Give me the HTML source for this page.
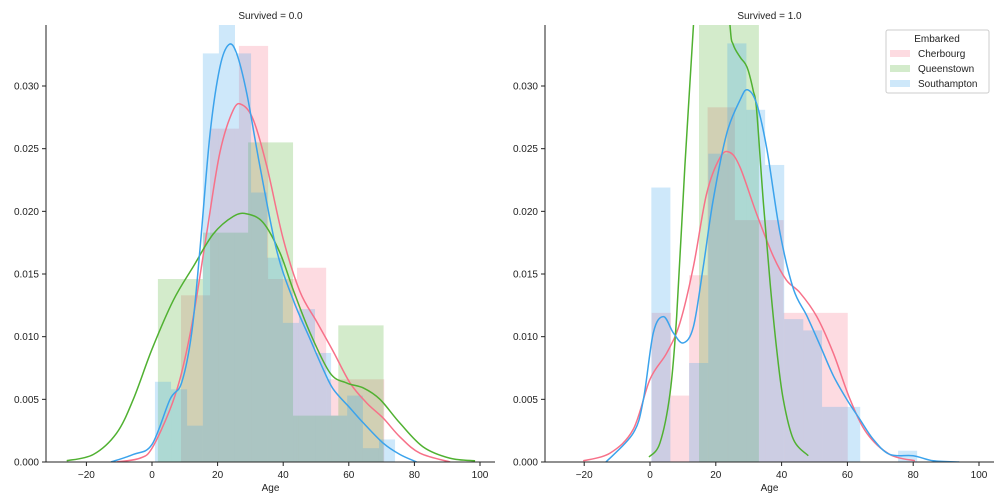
<!DOCTYPE html>
<html><head><meta charset="utf-8">
<style>
body{margin:0;background:#fff;}
svg{display:block;font-family:"Liberation Sans","DejaVu Sans",sans-serif;}
</style></head>
<body>
<svg id="chart" width="1008" height="504" viewBox="0 0 1008 504">
<defs>
<clipPath id="clipL"><rect x="46" y="25" width="449" height="437"/></clipPath>
<clipPath id="clipR"><rect x="545" y="25" width="449" height="437"/></clipPath>
</defs>
<g id="gL"></g>
<g id="gR"></g>
<g>
<rect x="886" y="30" width="103" height="63" fill="#fff" fill-opacity="0.8" stroke="#ccc" rx="2"/>
<text x="937" y="42" font-size="10" text-anchor="middle" fill="#222">Embarked</text>
<rect x="890" y="50" width="20" height="7" fill="#f77189" fill-opacity="0.25"/>
<text x="918" y="57" font-size="10" fill="#222">Cherbourg</text>
<rect x="890" y="65" width="20" height="7" fill="#50b131" fill-opacity="0.25"/>
<text x="918" y="72" font-size="10" fill="#222">Queenstown</text>
<rect x="890" y="80" width="20" height="7" fill="#3ba3ec" fill-opacity="0.25"/>
<text x="918" y="87" font-size="10" fill="#222">Southampton</text>
</g>
</svg>
<script>
const xTicks = [-20, 0, 20, 40, 60, 80, 100];
const yTicks = [0, 0.005, 0.010, 0.015, 0.020, 0.025, 0.030];
const yTickLabels = ["0.000","0.005","0.010","0.015","0.020","0.025","0.030"];
const seriesNames = ["Cherbourg","Queenstown","Southampton"];
const colors = ["#f77189","#50b131","#3ba3ec"];

// Survived = 0.0 histograms
const L_pinkEdges = [8.85,17.7,26.5,35.4,44.2,53.1,61.9,70.8];
const L_pinkHeights = [0.0133,0.0266,0.0332,0.0146,0.0155,0.0066,0.0066];
const L_greenEdges = [1.8,15.5,29.3,43.0,56.8,70.6];
const L_greenHeights = [0.0146,0.0183,0.0255,0.0037,0.0109];
const L_blueEdges = [0.9,5.8,10.7,15.5,20.4,25.3,30.2,35.1,39.9,44.8,49.7,54.6,59.5,64.3,69.2,74.1];
const L_blueHeights = [0.0064,0.0058,0.0029,0.0326,0.0360,0.0326,0.0215,0.0163,0.0111,0.0122,0.0087,0.0037,0.0053,0.0011,0.0018];
// Survived = 0.0 KDEs
const L_pinkKdeX = [-10.8,-3.7,0,5.5,9.0,12.6,16.7,20.7,24.8,27.5,30.9,35.0,40.0,45.1,50.2,55.3,60.4,65.5,70.5,75.6,81.7,90.9];
const L_pinkKdeY = [0,0.0003,0.0011,0.0042,0.0071,0.0116,0.0183,0.0247,0.0281,0.0285,0.0273,0.0236,0.0178,0.0136,0.0112,0.0088,0.0063,0.0047,0.0035,0.0020,0.0007,0];
const L_greenKdeX = [-26.0,-17.9,-10.8,-5.7,0,6.5,12.6,18.7,24.8,28.9,33.9,39.0,43.1,48.2,54.3,59.4,64.5,69.5,75.6,82.7,90.9,98.5];
const L_greenKdeY = [0.0001,0.0006,0.0023,0.0050,0.0090,0.0129,0.0156,0.0182,0.0196,0.0198,0.0191,0.0167,0.0137,0.0103,0.0071,0.0063,0.0059,0.0050,0.0031,0.0012,0.0003,0.0001];
const L_blueKdeX = [-12.5,-5.7,0,5.5,9.0,12.1,14.6,17.7,20.7,23.4,25.8,28.9,32.9,38.0,43.1,48.2,52.2,55.3,60.4,64.5,70.5,75.6,80.7];
const L_blueKdeY = [0,0.0006,0.0014,0.0050,0.0063,0.0103,0.0169,0.0262,0.0315,0.0333,0.0326,0.0294,0.0236,0.0169,0.0129,0.0098,0.0074,0.0058,0.0043,0.0031,0.0015,0.0006,0];

// Survived = 1.0 histograms
const R_pinkEdges = [0.5,6.4,11.9,17.5,25.8,33.1,40.6,60.1];
const R_pinkHeights = [0.0119,0.0053,0.0149,0.0283,0.0193,0.0193,0.0119];
const R_greenEdges = [14.9,24.0,33.1];
const R_greenHeights = [0.045,0.040];
const R_blueEdges = [0.4,6.2,11.9,17.7,23.5,29.3,35.0,40.8,46.6,52.3,58.1,63.9,69.6,75.4,81.2];
const R_blueHeights = [0.0219,0,0.0079,0.0246,0.0334,0.0281,0.0237,0.0114,0.0105,0.0044,0.0044,0,0,0.0009];
// Survived = 1.0 KDEs
const R_pinkKdeX = [-20.3,-12.2,-5.1,0,5.1,9.1,13.2,17.2,21.3,24.3,27.4,32.4,37.5,41.5,45.6,50.7,55.7,60.8,65.9,72.9,80.5];
const R_pinkKdeY = [0.0001,0.0007,0.0026,0.0066,0.0087,0.0111,0.0156,0.0214,0.0243,0.0247,0.0235,0.0198,0.0164,0.0145,0.0135,0.0116,0.0087,0.0050,0.0023,0.0006,0.0001];
const R_greenKdeX = [-0.3,3.0,6.1,8.1,10.6,13.2,16,19,22,24.3,25.3,27.4,28.9,29.9,31.4,32.4,34.4,36.5,38.5,40.5,43.6,48.1];
const R_greenKdeY = [0.0004,0.0015,0.0055,0.0116,0.0236,0.0348,0.048,0.052,0.044,0.0349,0.0333,0.0323,0.0318,0.0312,0.0296,0.0281,0.0209,0.0143,0.0090,0.0050,0.0018,0.0005];
const R_blueKdeX = [-13.4,-5.1,-2.0,1.0,4.1,7.1,10.1,13.2,16.2,19.2,23.3,27.4,29.6,32.4,35.5,39.5,43.6,47.6,51.7,55.7,59.8,63.8,67.9,72.9,80.0,86.1,94.0];
const R_blueKdeY = [0,0.0023,0.0050,0.0103,0.0116,0.0103,0.0095,0.0108,0.0156,0.0209,0.0262,0.0289,0.0297,0.0286,0.0250,0.0183,0.0138,0.0117,0.0093,0.0069,0.0050,0.0034,0.0018,0.0006,0.0005,0.0001,0];

const NS = "http://www.w3.org/2000/svg";
function mk(tag, attrs, parent){
  const e = document.createElementNS(NS, tag);
  for (const k in attrs) e.setAttribute(k, attrs[k]);
  parent.appendChild(e); return e;
}
function smoothPath(pts){
  let d = "M" + pts[0][0].toFixed(2) + "," + pts[0][1].toFixed(2);
  for (let i=0;i<pts.length-1;i++){
    const p0 = pts[Math.max(0,i-1)], p1 = pts[i], p2 = pts[i+1], p3 = pts[Math.min(pts.length-1,i+2)];
    const c1x = p1[0]+(p2[0]-p0[0])/6, c1y = p1[1]+(p2[1]-p0[1])/6;
    const c2x = p2[0]-(p3[0]-p1[0])/6, c2y = p2[1]-(p3[1]-p1[1])/6;
    d += " C"+c1x.toFixed(2)+","+c1y.toFixed(2)+" "+c2x.toFixed(2)+","+c2y.toFixed(2)+" "+p2[0].toFixed(2)+","+p2[1].toFixed(2);
  }
  return d;
}
function panel(g, o){
  const sx = a => o.x0 + a*o.kx;
  const sy = v => 462 - v*12533;
  const data = g.appendChild(document.createElementNS(NS,"g"));
  data.setAttribute("clip-path", "url(#"+o.clip+")");
  o.hists.forEach((h, si) => {
    for (let i=0;i<h.heights.length;i++){
      if (h.heights[i] <= 0) continue;
      const r = mk("rect", {x: sx(h.edges[i]), y: sy(h.heights[i]), width: sx(h.edges[i+1]) - sx(h.edges[i]), height: sy(0) - sy(h.heights[i]), fill: colors[si], "fill-opacity": 0.25}, data);
      
      
    }
  });
  o.kdes.forEach((k, si) => {
    const pts = k.x.map((a, i) => [sx(a), sy(k.y[i])]);
    const p = mk("path", {d: smoothPath(pts), fill: "none", stroke: colors[si], "stroke-width": 1.5}, data);
    
    
  });
  const yl = mk("line", {x1: o.left, y1: 25, x2: o.left, y2: 462, stroke: "#222", "stroke-width": 1}, g);
  
  
  const xl = mk("line", {x1: o.left, y1: 462, x2: o.left+449, y2: 462, stroke: "#222", "stroke-width": 1}, g);
  
  
  xTicks.forEach(t => {
    const x = sx(t);
    mk("line", {x1: x, y1: 462, x2: x, y2: 466, stroke: "#222"}, g);
    const tx = mk("text", {x: x, y: 478, "font-size": 10, "text-anchor": "middle", fill: "#222"}, g);
    tx.textContent = t < 0 ? "\u2212" + (-t) : String(t);
    
    
  });
  yTicks.forEach((t, i) => {
    const y = sy(t);
    mk("line", {x1: o.left-4, y1: y, x2: o.left, y2: y, stroke: "#222"}, g);
    const tx = mk("text", {x: o.left-7, y: y+3.5, "font-size": 10, "text-anchor": "end", fill: "#222"}, g);
    tx.textContent = yTickLabels[i];
    
    
  });
  const xt = mk("text", {x: o.left+224.5, y: 491, "font-size": 10, "text-anchor": "middle", fill: "#222"}, g);
  xt.textContent = "Age";
  
  
  const tt = mk("text", {x: o.left+224.5, y: 19, "font-size": 10, "text-anchor": "middle", fill: "#222"}, g);
  tt.textContent = o.title;
  
  
}
panel(document.getElementById("gL"), {x0: 152, kx: 3.28, left: 46, clip: "clipL", title: "Survived = 0.0",
  hists: [{edges: L_pinkEdges, heights: L_pinkHeights},{edges: L_greenEdges, heights: L_greenHeights},{edges: L_blueEdges, heights: L_blueHeights}],
  kdes: [{x: L_pinkKdeX, y: L_pinkKdeY},{x: L_greenKdeX, y: L_greenKdeY},{x: L_blueKdeX, y: L_blueKdeY}]});
panel(document.getElementById("gR"), {x0: 650, kx: 3.29, left: 545, clip: "clipR", title: "Survived = 1.0",
  hists: [{edges: R_pinkEdges, heights: R_pinkHeights},{edges: R_greenEdges, heights: R_greenHeights},{edges: R_blueEdges, heights: R_blueHeights}],
  kdes: [{x: R_pinkKdeX, y: R_pinkKdeY},{x: R_greenKdeX, y: R_greenKdeY},{x: R_blueKdeX, y: R_blueKdeY}]});
</script>
</body></html>
